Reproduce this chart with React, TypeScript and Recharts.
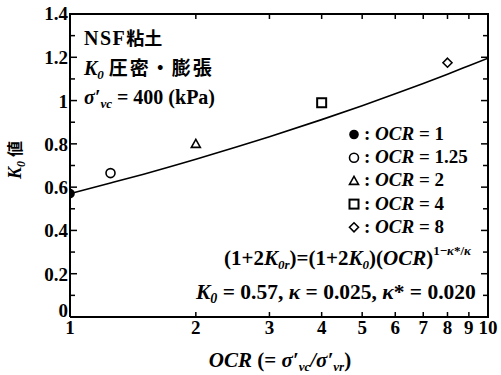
import { ComposedChart, Line, Scatter, XAxis, YAxis } from "recharts";

// OCR test points and the fitted K0 curve
const testOcr = [1, 1.25, 2, 4, 8];
const testK0 = [0.57, 0.665, 0.8, 0.99, 1.175];
const testNames = ["1", "1.25", "2", "4", "8"];
const testShapes = ["dot", "circle", "triangle", "square", "diamond"];

const curveOcr = [1, 1.25, 1.5, 2, 2.5, 3, 4, 5, 6, 7, 8, 9, 10];
const curveK0 = [0.57, 0.619, 0.66, 0.729, 0.785, 0.833, 0.912, 0.976, 1.031, 1.079, 1.122, 1.161, 1.196];

const ocrTicks = [1, 2, 3, 4, 5, 6, 7, 8, 9, 10];
const k0Ticks = [0, 0.1, 0.2, 0.3, 0.4, 0.5, 0.6, 0.7, 0.8, 0.9, 1, 1.1, 1.2, 1.3, 1.4];

const curveData = curveOcr.map((ocr, i) => ({ ocr, k0: curveK0[i] }));

// chart layout
const W = 501;
const H = 375;
const MARGIN = { top: 14, right: 13, left: 0, bottom: 0 };
const Y_AXIS_W = 70;
const X_AXIS_H = 58;
const PLOT_X = MARGIN.left + Y_AXIS_W;
const PLOT_Y = MARGIN.top;
const PLOT_W = W - MARGIN.left - MARGIN.right - Y_AXIS_W;
const PLOT_H = H - MARGIN.top - MARGIN.bottom - X_AXIS_H;
const K0_MAX = 1.4;

const SERIF = '"Liberation Serif", "Times New Roman", serif';
const CJK = '"Noto Sans CJK JP", sans-serif';

const isMajor = (v: number) => Math.round(v * 10) % 2 === 0;

function Marker({ kind, cx, cy }: { kind: string; cx: number; cy: number }) {
  const st = { stroke: "#000", strokeWidth: 1.6, fill: "none" };
  if (kind === "dot") return <circle cx={cx} cy={cy} r={4.8} fill="#000" />;
  if (kind === "circle") return <circle cx={cx} cy={cy} r={4.5} {...st} />;
  if (kind === "triangle")
    return <polygon points={`${cx},${cy - 4.5} ${cx + 4.5},${cy + 3.5} ${cx - 4.5},${cy + 3.5}`} {...st} />;
  if (kind === "square")
    return <rect x={cx - 4.5} y={cy - 4.5} width={9} height={9} {...st} strokeWidth={2} />;
  return <polygon points={`${cx},${cy - 4.5} ${cx + 4.5},${cy} ${cx},${cy + 4.5} ${cx - 4.5},${cy}`} {...st} />;
}

const LeftTick = (props: any) => {
  const x = Number(props.x);
  const y = Number(props.y);
  const v = Number(props.payload.value);
  if (!isMajor(v)) return <g />;
  const dy = v === 0 ? 0 : v === K0_MAX ? 6 : 7;
  return (
    <text x={x - 2} y={y + dy} textAnchor="end" fill="#000" fontFamily={SERIF} fontWeight="bold" fontSize={19}>
      {String(v)}
    </text>
  );
};

const BottomTick = (props: any) => {
  const x = Number(props.x);
  const y = Number(props.y);
  return (
    <text x={x} y={y + 17} textAnchor="middle" fill="#000" fontFamily={SERIF} fontWeight="bold" fontSize={19}>
      {String(props.payload.value)}
    </text>
  );
};

// frame with inward tick marks on all four sides (log OCR axis, linear K0 axis),
// built from thin filled rectangles
function Frame() {
  const x0 = PLOT_X;
  const x1 = PLOT_X + PLOT_W;
  const y0 = PLOT_Y;
  const y1 = PLOT_Y + PLOT_H;
  const t = 1.5;
  const bars: JSX.Element[] = [];
  k0Ticks.forEach((v, i) => {
    const y = y1 - (PLOT_H * v) / K0_MAX;
    const len = isMajor(v) ? 7 : 5;
    bars.push(<rect key={`l${i}`} x={x0} y={y - t / 2} width={len} height={t} fill="#000" />);
    bars.push(<rect key={`r${i}`} x={x1 - len} y={y - t / 2} width={len} height={t} fill="#000" />);
  });
  ocrTicks.forEach((v, i) => {
    const x = x0 + PLOT_W * Math.log10(v);
    bars.push(<rect key={`b${i}`} x={x - t / 2} y={y1 - 5} width={t} height={5} fill="#000" />);
    bars.push(<rect key={`t${i}`} x={x - t / 2} y={y0} width={t} height={5} fill="#000" />);
  });
  return (
    <g>
      {bars}
      <rect x={x0 - 1} y={y0 - 1} width={x1 - x0 + 2} height={2} fill="#000" />
      <rect x={x1 - 1} y={y0 - 1} width={2} height={y1 - y0 + 2} fill="#000" />
    </g>
  );
}

const axisLine = { stroke: "#000", strokeWidth: 2 };

export default function App() {
  return (
    <div style={{ position: "absolute", left: 0, top: 0, width: W, height: H, background: "#fff" }}>
      <ComposedChart width={W} height={H} data={curveData} margin={MARGIN}>
        <XAxis
          dataKey="ocr"
          type="number"
          scale="log"
          domain={[1, 10]}
          ticks={ocrTicks}
          interval={0}
          allowDataOverflow
          height={X_AXIS_H}
          tickSize={0}
          tickMargin={0}
          axisLine={axisLine}
          tick={BottomTick}
        />
        <YAxis
          type="number"
          domain={[0, K0_MAX]}
          ticks={k0Ticks}
          interval={0}
          width={Y_AXIS_W}
          tickSize={0}
          tickMargin={0}
          axisLine={axisLine}
          tick={LeftTick}
        />
        <Line
          dataKey="k0"
          type="monotone"
          stroke="#000"
          strokeWidth={1.6}
          dot={false}
          isAnimationActive={false}
        />
        {testOcr.map((ocr, i) => (
          <Scatter
            key={testNames[i]}
            data={[{ ocr, k0: testK0[i] }]}
            dataKey="k0"
            isAnimationActive={false}
            shape={(p: any) => <Marker kind={testShapes[i]} cx={p.cx} cy={p.cy} />}
          />
        ))}
      </ComposedChart>

      <svg
        width={W}
        height={H}
        style={{ position: "absolute", left: 0, top: 0, pointerEvents: "none" }}
        fontFamily={SERIF}
        fontWeight="bold"
      >
        <Frame />

        <text x={84} y={45} fontSize={20}>
          <tspan letterSpacing={1.5}>NSF</tspan>
          <tspan fontFamily={CJK} fontSize={18}>粘土</tspan>
        </text>
        <text x={84} y={75} fontSize={20}>
          <tspan fontStyle="italic">K</tspan>
          <tspan fontStyle="italic" fontSize={13} dy={4}>0</tspan>
          <tspan fontFamily={CJK} fontSize={19} dy={-4} dx={5} letterSpacing={2}>圧密・膨張</tspan>
        </text>
        <text x={84} y={104} fontSize={20}>
          <tspan fontStyle="italic">σ′</tspan>
          <tspan fontStyle="italic" fontSize={13} dy={4}>vc</tspan>
          <tspan dy={-4}> = 400 (kPa)</tspan>
        </text>

        <text transform="translate(21,160) rotate(-90)" textAnchor="middle" fontSize={18}>
          <tspan fontStyle="italic">K</tspan>
          <tspan fontStyle="italic" fontSize={12} dy={4}>0</tspan>
          <tspan fontFamily={CJK} fontSize={16} dy={-4} dx={4}>値</tspan>
        </text>

        {testNames.map((name, i) => {
          const by = 140 + i * 23.2;
          return (
            <g key={name}>
              <Marker kind={testShapes[i]} cx={354} cy={by - 5.5} />
              <text x={364} y={by} fontSize={19}>
                : <tspan fontStyle="italic">OCR</tspan> = {name}
              </text>
            </g>
          );
        })}

        <text x={224} y={265} fontSize={21}>
          (1+2<tspan fontStyle="italic">K</tspan>
          <tspan fontStyle="italic" fontSize={13} dy={4}>0r</tspan>
          <tspan dy={-4}>)=(1+2</tspan>
          <tspan fontStyle="italic">K</tspan>
          <tspan fontStyle="italic" fontSize={13} dy={4}>0</tspan>
          <tspan dy={-4}>)(</tspan>
          <tspan fontStyle="italic">OCR</tspan>)
          <tspan fontSize={13} dy={-10}>1−</tspan>
          <tspan fontSize={13} fontStyle="italic">κ</tspan>
          <tspan fontSize={13}>*/</tspan>
          <tspan fontSize={13} fontStyle="italic">κ</tspan>
        </text>

        <text x={196} y={299} fontSize={21.5}>
          <tspan fontStyle="italic">K</tspan>
          <tspan fontStyle="italic" fontSize={14} dy={4}>0</tspan>
          <tspan dy={-4}> = 0.57, </tspan>
          <tspan fontStyle="italic">κ</tspan> = 0.025, <tspan fontStyle="italic">κ</tspan>* = 0.020
        </text>

        <text x={280} y={367} textAnchor="middle" fontSize={21}>
          <tspan fontStyle="italic">OCR</tspan> (= <tspan fontStyle="italic">σ′</tspan>
          <tspan fontStyle="italic" fontSize={13} dy={4}>vc</tspan>
          <tspan dy={-4} fontStyle="italic">/σ′</tspan>
          <tspan fontStyle="italic" fontSize={13} dy={4}>vr</tspan>
          <tspan dy={-4}>)</tspan>
        </text>
      </svg>
    </div>
  );
}
